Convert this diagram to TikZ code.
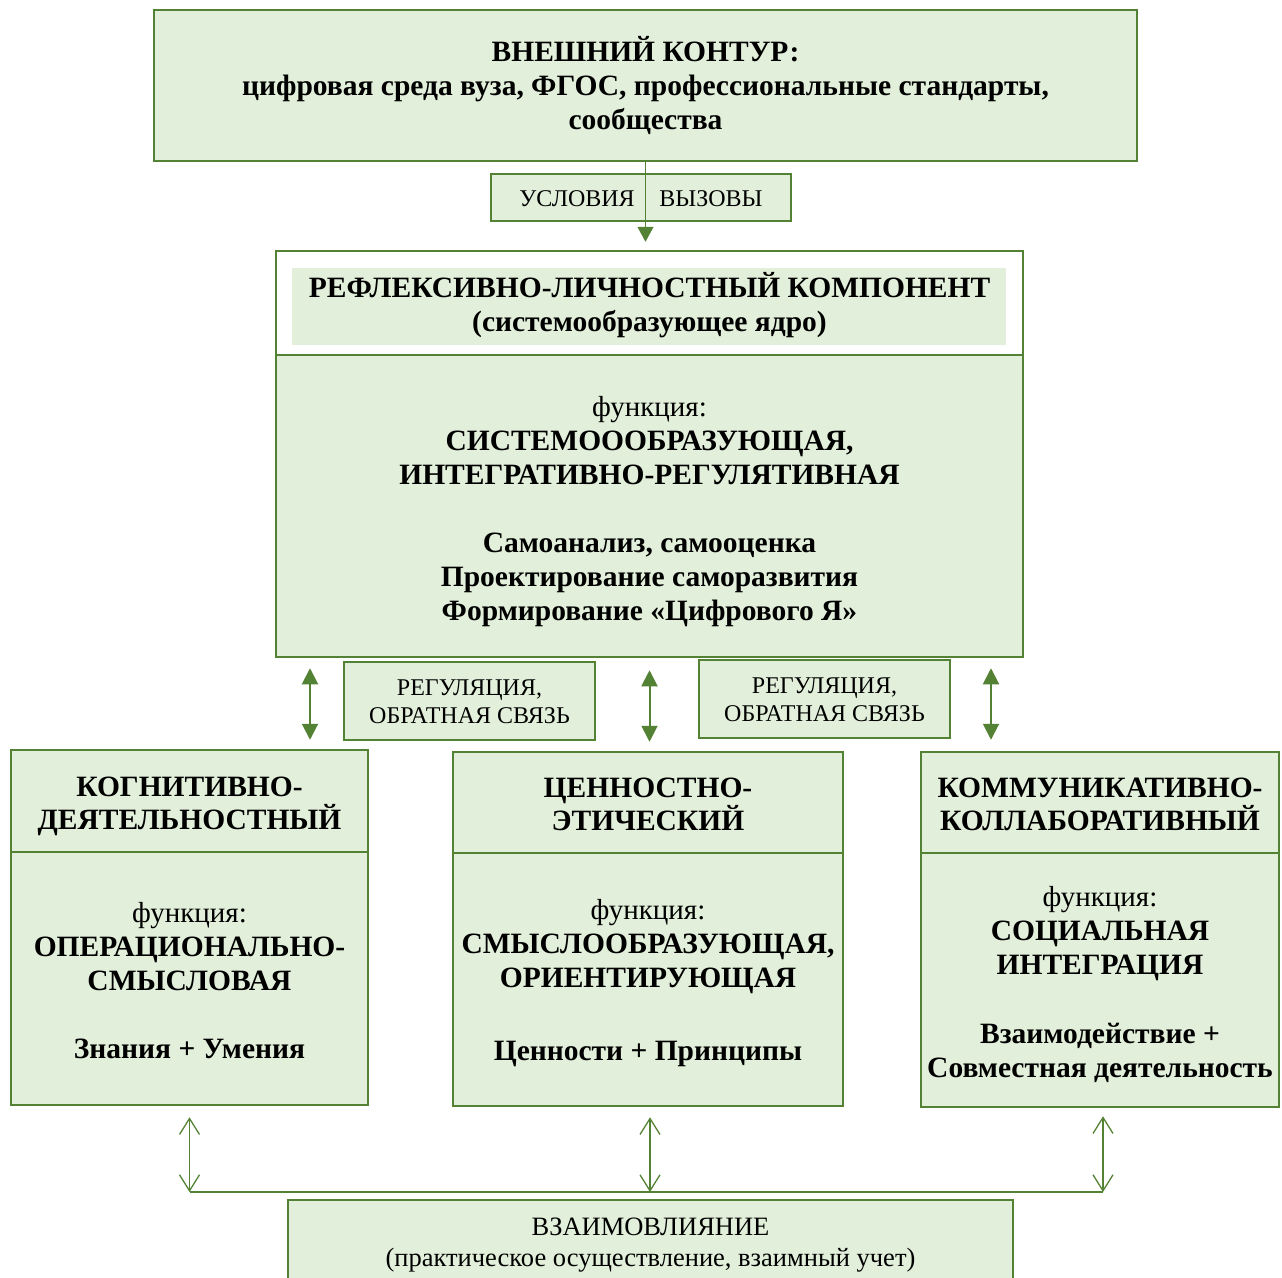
\documentclass[tikz,border=0pt]{standalone}
\usepackage{fontspec}
\setmainfont{Liberation Serif}
\usetikzlibrary{arrows.meta,calc}
\definecolor{gborder}{RGB}{84,130,53}
\definecolor{gfill}{RGB}{226,239,218}
\newcommand{\fn}[1]{{\fontsize{29}{34}\selectfont\mdseries #1}}
\begin{document}
\begin{tikzpicture}[x=1pt,y=-1pt,
  box/.style={draw=gborder, line width=2.5pt, fill=gfill, inner sep=0pt, align=center},
  lblbox/.style={draw=gborder, line width=1.5pt, fill=gfill, inner sep=0pt, align=center},
  bigtxt/.style={font=\fontsize{29.5}{34}\selectfont\bfseries, align=center},
  headtxt/.style={font=\fontsize{29.5}{33}\selectfont\bfseries, align=center},
  smalltxt/.style={font=\fontsize{24}{28}\selectfont, align=center},
  dblarr/.style={draw=gborder, line width=2pt, {Triangle[length=16pt,width=16pt]}-{Triangle[length=16pt,width=16pt]}},
  openarr/.style={draw=gborder, line width=1.3pt, {Straight Barb[length=16pt,width=20pt]}-{Straight Barb[length=16pt,width=20pt]}},
  downarr/.style={draw=gborder, line width=1.5pt, -{Triangle[length=15pt,width=16pt]}}
]
\useasboundingbox (0,0) rectangle (1282,1277);
\clip (0,0) rectangle (1282,1277);

% top box
\node[box, bigtxt, minimum width=983pt, minimum height=151pt] (top) at (645.5,85.5)
  {ВНЕШНИЙ КОНТУР:\\ цифровая среда вуза, ФГОС, профессиональные стандарты,\\ сообщества};

% conditions box
\node[lblbox, minimum width=300pt, minimum height=47pt] (cond) at (641,197.5) {};
\node[smalltxt] (condl) at (577,199) {УСЛОВИЯ};
\node[smalltxt] (condr) at (711,199) {ВЫЗОВЫ};

% central header
\node[box, fill=white, minimum width=747pt, minimum height=104pt] (hdr) at (649.5,303) {};
\fill[gfill] (292,268) rectangle (1006,345);
\node[bigtxt] (hdrtxt) at (649.5,305) {РЕФЛЕКСИВНО-ЛИЧНОСТНЫЙ КОМПОНЕНТ\\(системообразующее ядро)};

% central body
\node[box, minimum width=747pt, minimum height=302pt] (body) at (649.5,506) {};
\node[bigtxt] (bodytxt) at (649.5,511.5)
  {\fn{функция:}\\
   СИСТЕМОООБРАЗУЮЩАЯ,\\
   ИНТЕГРАТИВНО-РЕГУЛЯТИВНАЯ\\[34pt]
   Самоанализ, самооценка\\
   Проектирование саморазвития\\
   Формирование «Цифрового Я»};

% top arrow
\draw[downarr, shorten >=8pt] (top.south) -- (hdr.north -| top.south);

% regulation labels
\node[lblbox, minimum width=251pt, minimum height=78pt] (reg1) at (469.5,701) {};
\node[smalltxt] (reg1txt) at (469.5,702) {РЕГУЛЯЦИЯ,\\ОБРАТНАЯ СВЯЗЬ};
\node[lblbox, minimum width=251pt, minimum height=78pt] (reg2) at (824.5,699) {};
\node[smalltxt] (reg2txt) at (824.5,700) {РЕГУЛЯЦИЯ,\\ОБРАТНАЯ СВЯЗЬ};

% lower boxes: headers
\node[box, minimum width=357pt, minimum height=102pt] (lhead) at (189.5,801) {};
\node[headtxt] (lheadtxt) at (189.5,806) {КОГНИТИВНО-\\ДЕЯТЕЛЬНОСТНЫЙ};
\node[box, minimum width=390pt, minimum height=101pt] (mhead) at (648,802.5) {};
\node[headtxt] (mheadtxt) at (648,804) {ЦЕННОСТНО-\\ЭТИЧЕСКИЙ};
\node[box, minimum width=358pt, minimum height=101pt] (rhead) at (1100,802.5) {};
\node[headtxt] (rheadtxt) at (1100,804.5) {КОММУНИКАТИВНО-\\КОЛЛАБОРАТИВНЫЙ};

% lower boxes: bodies
\node[box, minimum width=357pt, minimum height=253pt] (lbody) at (189.5,978.5) {};
\node[bigtxt] (lbodytxt) at (189.5,980.5)
  {\fn{функция:}\\
   ОПЕРАЦИОНАЛЬНО-\\
   СМЫСЛОВАЯ\\[34pt]
   Знания + Умения};
\node[box, minimum width=390pt, minimum height=253pt] (mbody) at (648,979.5) {};
\node[bigtxt] (mbodytxt) at (648,983.5)
  {\fn{функция:}\\
   СМЫСЛООБРАЗУЮЩАЯ,\\
   ОРИЕНТИРУЮЩАЯ\\[39pt]
   Ценности + Принципы};
\node[box, minimum width=358pt, minimum height=254pt] (rbody) at (1100,980) {};
\node[bigtxt] (rbodytxt) at (1100,984.5)
  {\fn{функция:}\\
   СОЦИАЛЬНАЯ\\
   ИНТЕГРАЦИЯ\\[35pt]
   Взаимодействие +\\
   Совместная деятельность};

% regulation arrows
\coordinate (r1) at (310,0);
\coordinate (r3) at (991,0);
\draw[dblarr, shorten <=10pt, shorten >=9pt] (body.south -| r1) -- (lhead.north -| r1);
\draw[dblarr, shorten <=12pt, shorten >=9pt] (body.south) -- (mhead.north -| body.south);
\draw[dblarr, shorten <=10pt, shorten >=11pt] (body.south -| r3) -- (rhead.north -| r3);

% bottom
\node[box, minimum width=725pt, minimum height=100pt] (bot) at (650.5,1250) {};
\node[font=\fontsize{26.5}{31}\selectfont, align=center] (bottxt) at (650.5,1245)
  {ВЗАИМОВЛИЯНИЕ\\(практическое осуществление, взаимный учет)};
\coordinate (hl) at (0,1192);
\draw[openarr, shorten <=11pt] (lbody.south) -- (lbody.south |- hl);
\draw[openarr, shorten <=10pt] ([xshift=2pt]mbody.south) -- ([xshift=2pt]mbody.south |- hl);
\draw[openarr, shorten <=8pt] ([xshift=3pt]rbody.south) -- ([xshift=3pt]rbody.south |- hl);
\draw[draw=gborder, line width=1.3pt] (lbody.south |- hl) -- ([xshift=3pt]rbody.south |- hl);
\end{tikzpicture}
\end{document}
